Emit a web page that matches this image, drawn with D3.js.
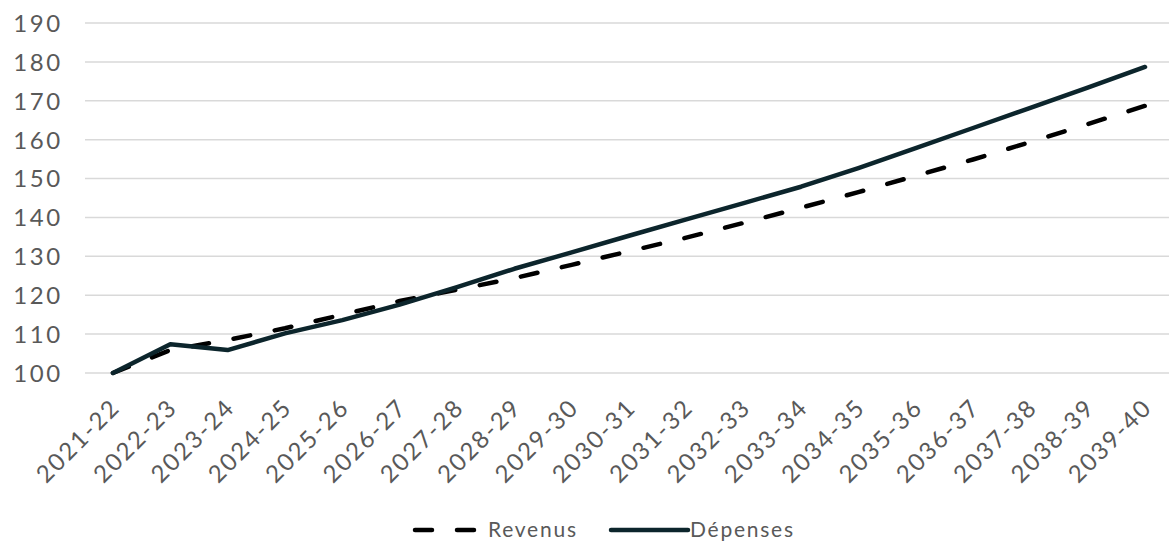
<!DOCTYPE html>
<html>
<head>
<meta charset="utf-8">
<script src="https://cdn.jsdelivr.net/npm/d3@7"></script>
<style>
  html, body { margin: 0; padding: 0; background: #fff; }
  svg { display: block; }
  text { font-family: Lato, "Open Sans", sans-serif; fill: #595959; }
</style>
</head>
<body>
<svg id="chart" width="1169" height="543"></svg>
<script>
// Fiscal years on the category axis
const categories = ["2021-22","2022-23","2023-24","2024-25","2025-26","2026-27","2027-28","2028-29","2029-30","2030-31","2031-32","2032-33","2033-34","2034-35","2035-36","2036-37","2037-38","2038-39","2039-40"];
// Index values (2021-22 = 100)
const revenus  = [100, 105.9, 108.5, 111.5, 115.0, 118.5, 121.4, 124.4, 127.8, 131.3, 134.8, 138.6, 142.5, 146.5, 150.7, 154.9, 159.4, 164.0, 168.7];
const depenses = [100, 107.4, 105.9, 110.2, 113.6, 117.6, 122.1, 126.8, 131.0, 135.3, 139.5, 143.7, 147.9, 152.7, 157.8, 163.0, 168.2, 173.4, 178.7];
const yTicks = [100, 110, 120, 130, 140, 150, 160, 170, 180, 190];
const seriesNames = ["Revenus", "Dépenses"];

const svg = d3.select("#chart");
const W = 1169;
const plot = { left: 84.3, right: 1173.7, top: 23, bottom: 373 };

const x = d3.scalePoint()
  .domain(categories)
  .range([plot.left, plot.right])
  .padding(0.5);

const y = d3.scaleLinear()
  .domain([100, 190])
  .range([plot.bottom, plot.top]);

// Horizontal gridlines
svg.append("g")
  .selectAll("line")
  .data(yTicks)
  .join("line")
  .attr("x1", 85)
  .attr("x2", W)
  .attr("y1", d => y(d))
  .attr("y2", d => y(d))
  .attr("stroke", "#d9d9d9")
  .attr("stroke-width", 1.5);

// Y axis labels
const yAxis = svg.append("g")
  .attr("transform", "translate(63,0)")
  .call(d3.axisLeft(y).tickValues(yTicks).tickSize(0).tickPadding(0));
yAxis.select(".domain").remove();
yAxis.selectAll("text")
  .attr("font-size", 24)
  .attr("font-family", "Lato, sans-serif")
  .attr("letter-spacing", 2.7)
  .attr("fill", "#595959")
  .attr("dy", "0.35em");

// X axis labels, rotated
const xAxis = svg.append("g")
  .attr("transform", `translate(0,${plot.bottom})`)
  .call(d3.axisBottom(x).tickSize(0).tickPadding(0));
xAxis.select(".domain").remove();
xAxis.selectAll("text")
  .attr("font-size", 24)
  .attr("font-family", "Lato, sans-serif")
  .attr("letter-spacing", 2)
  .attr("fill", "#595959")
  .attr("text-anchor", "end")
  .attr("dy", 0)
  .attr("y", 0)
  .attr("transform", "translate(8,36) rotate(-45)");

const line = d3.line()
  .x((d, i) => x(categories[i]))
  .y(d => y(d));

svg.append("path")
  .datum(revenus)
  .attr("d", line)
  .attr("fill", "none")
  .attr("stroke", "#000")
  .attr("stroke-width", 4.5)
  .attr("stroke-linecap", "round")
  .attr("stroke-linejoin", "round")
  .attr("stroke-dasharray", "17 25");

svg.append("path")
  .datum(depenses)
  .attr("d", line)
  .attr("fill", "none")
  .attr("stroke", "#0c252c")
  .attr("stroke-width", 4.5)
  .attr("stroke-linecap", "round")
  .attr("stroke-linejoin", "round");

// Legend
const legend = svg.append("g");
const legendItems = [
  { name: seriesNames[0], x1: 415, x2: 475, tx: 488, color: "#000", dash: "17 25" },
  { name: seriesNames[1], x1: 611, x2: 688, tx: 690, color: "#0c252c", dash: null }
];
legendItems.forEach(it => {
  legend.append("line")
    .attr("x1", it.x1).attr("x2", it.x2)
    .attr("y1", 530).attr("y2", 530)
    .attr("stroke", it.color)
    .attr("stroke-width", 4.5)
    .attr("stroke-linecap", "round")
    .attr("stroke-dasharray", it.dash);
  legend.append("text")
    .attr("x", it.tx)
    .attr("y", 537)
    .attr("font-size", 21)
    .attr("letter-spacing", 1.75)
    .text(it.name);
});
</script>
</body>
</html>
